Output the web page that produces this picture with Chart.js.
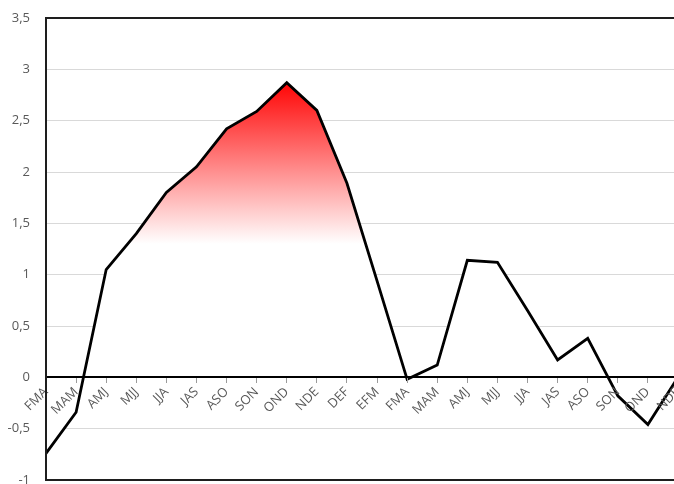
<!DOCTYPE html>
<html>
<head>
<meta charset="utf-8">
<script src="https://cdn.jsdelivr.net/npm/chart.js@4/dist/chart.umd.min.js"></script>
<style>
  html, body { margin: 0; padding: 0; background: #ffffff; overflow: hidden; }
  #wrap { width: 674px; height: 484px; overflow: hidden; }
  canvas { display: block; }
</style>
</head>
<body>
<div id="wrap"><canvas id="chart" width="690" height="484"></canvas></div>
<script>
// Three-month rolling seasons
const seasons = ['FMA','MAM','AMJ','MJJ','JJA','JAS','ASO','SON','OND','NDE','DEF','EFM',
                 'FMA','MAM','AMJ','MJJ','JJA','JAS','ASO','SON','OND','NDE'];

// Index value per season
const indexValues = [-0.74, -0.34, 1.05, 1.40, 1.80, 2.05, 2.42, 2.59, 2.87, 2.60, 1.89, 0.94,
                     -0.02, 0.12, 1.14, 1.12, 0.65, 0.17, 0.38, -0.18, -0.46, 0.00];

// Value axis range and step
const yMin = -1;
const yMax = 3.5;
const yStep = 0.5;

// Shading: full red at the top value, fading to white at the bottom value
const shadeTop = 2.9;
const shadeBottom = 1.3;

const textGrey = '#595959';
const family = "'Open Sans', 'Noto Sans', sans-serif";

const frame = {
  id: 'frame',
  afterDraw(chart) {
    const { ctx, chartArea: a } = chart;
    ctx.save();
    ctx.strokeStyle = '#1e1e1e';
    ctx.lineWidth = 2;
    ctx.strokeRect(a.left, a.top, a.right - a.left, a.bottom - a.top);
    ctx.restore();
  }
};

function shade(context) {
  const chart = context.chart;
  const { ctx, chartArea, scales } = chart;
  if (!chartArea) return '#ffffff';
  const y = scales.y;
  const g = ctx.createLinearGradient(0, y.getPixelForValue(shadeTop), 0, y.getPixelForValue(shadeBottom));
  g.addColorStop(0, '#ff0000');
  g.addColorStop(1, '#ffffff');
  return g;
}

new Chart(document.getElementById('chart'), {
  type: 'line',
  data: {
    labels: seasons,
    datasets: [{
      data: indexValues,
      borderColor: '#000000',
      borderWidth: 2.8,
      pointRadius: 0,
      tension: 0,
      fill: 'origin',
      backgroundColor: shade
    }]
  },
  options: {
    responsive: false,
    animation: false,
    layout: { padding: { left: 0, right: 12, top: 18, bottom: 4 } },
    plugins: { legend: { display: false }, tooltip: { enabled: false } },
    scales: {
      x: {
        position: { y: 0 },
        offset: false,
        afterFit(scale) {
          scale.paddingTop = 0;
          scale.paddingBottom = 0;
          scale.paddingLeft = 0;
          scale.paddingRight = 0;
        },
        grid: {
          z: 1,
          drawOnChartArea: false,
          drawTicks: true,
          tickLength: 5,
          tickColor: '#9a9a9a',
          tickWidth: 1
        },
        border: { display: true, color: '#000000', width: 2, z: 1 },
        ticks: {
          z: 1,
          autoSkip: false,
          minRotation: 45,
          maxRotation: 45,
          padding: 2,
          color: textGrey,
          font: { family: family, size: 13 }
        }
      },
      y: {
        min: yMin,
        max: yMax,
        afterFit(scale) {
          scale.width = 46;
          scale.paddingTop = 0;
          scale.paddingBottom = 0;
        },
        grid: { color: '#d9d9d9', lineWidth: 1, drawTicks: false },
        border: { display: false },
        ticks: {
          stepSize: yStep,
          padding: 16,
          color: textGrey,
          font: { family: family, size: 13 },
          callback: (v) => String(v).replace('.', ',')
        }
      }
    }
  },
  plugins: [frame]
});
</script>
</body>
</html>
